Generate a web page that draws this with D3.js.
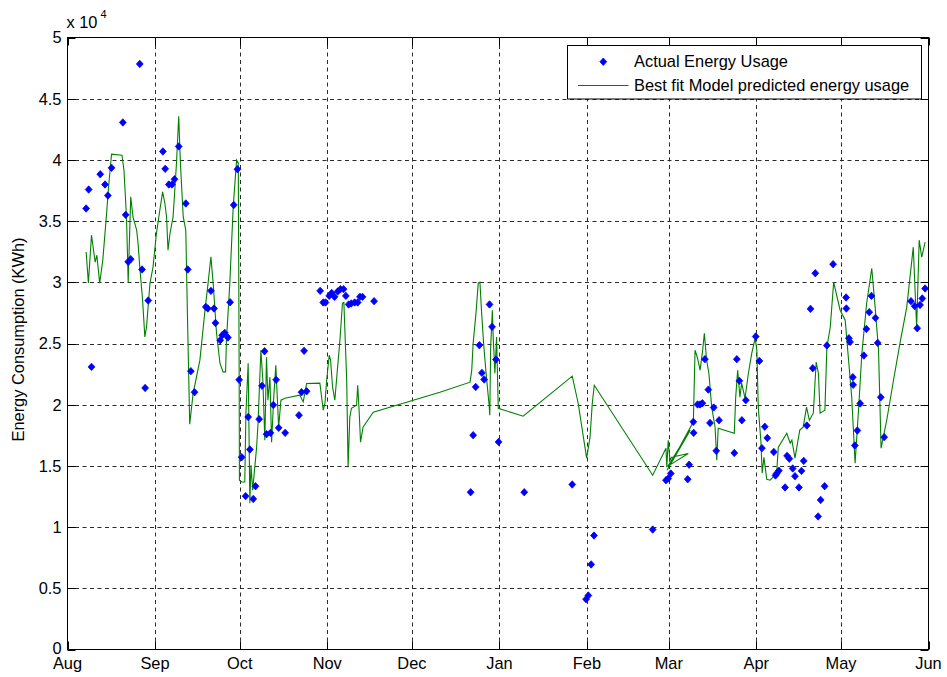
<!DOCTYPE html>
<html>
<head>
<meta charset="utf-8">
<script src="https://cdn.jsdelivr.net/npm/d3@7"></script>
<style>
  html, body { margin: 0; padding: 0; background: #fff; }
  svg { display: block; }
  text { font-family: "Liberation Sans", Arial, sans-serif; fill: #000; }
</style>
</head>
<body>
<svg id="chart" width="947" height="677"></svg>
<script>
// ---------------- data ----------------
// x values: days since 1 Aug 2011; y values: kWh
const xTickLabels = ["Aug","Sep","Oct","Nov","Dec","Jan","Feb","Mar","Apr","May","Jun"];
const yTickValues = [0,5000,10000,15000,20000,25000,30000,35000,40000,45000,50000];
const yTickLabels = ["0","0.5","1","1.5","2","2.5","3","3.5","4","4.5","5"];

const actualDay = [6.6,7.5,8.5,11.6,13.3,14.3,15.6,19.6,20.6,21.5,22.4,25.6,26.4,27.5,28.6,
33.8,34.6,35.9,37.0,37.9,39.4,41.9,42.6,43.7,45.0,49.0,49.7,50.8,51.9,52.4,54.1,54.8,55.7,56.8,57.6,58.9,60.2,
60.8,61.7,63.1,64.0,64.6,65.8,66.6,67.9,68.9,69.8,70.5,71.9,72.9,73.9,74.8,77.1,82.0,82.9,83.8,84.7,
89.5,90.6,91.4,92.7,93.6,94.6,95.7,96.7,97.8,98.6,99.6,100.5,101.7,102.8,103.6,104.5,108.6,
142.8,143.7,144.6,145.9,146.8,147.6,149.5,150.4,151.8,152.7,161.8,178.8,
183.7,184.5,185.5,186.5,207.3,
212.0,212.8,213.7,219.7,220.2,221.8,221.7,223.2,224.1,224.9,225.8,227.0,227.6,228.9,230.8,229.8,236.2,237.1,238.0,238.9,240.3,243.8,
245.1,246.0,247.0,247.9,250.2,250.8,251.2,252.0,254.2,254.9,255.7,256.9,257.7,259.1,260.0,260.8,261.9,263.2,264.0,264.9,265.9,266.8,268.2,269.0,271.2,
275.8,275.9,276.8,277.2,278.2,278.3,278.9,279.8,280.8,282.1,283.0,284.0,284.8,286.2,287.0,288.1,289.3,298.8,300.1,301.0,302.0,302.8,303.8];

const actualKWh = [36030,37580,23090,38830,37990,37090,39350,43060,35510,31670,31890,47840,31050,21370,28510,
40690,39270,37990,37990,38420,41100,36440,31050,22740,21020,27990,27860,29300,27860,26680,25270,25680,25870,25490,28370,36320,39240,
22030,15710,12530,19000,16340,12300,13340,18820,21540,24370,17590,17700,19980,22030,18110,17700,19140,21020,24400,21100,
29300,28350,28350,28890,29130,28810,29250,29440,29440,28890,28190,28270,28350,28350,28810,28810,28460,
12850,17510,21450,24860,22600,22060,28190,26360,23690,16960,12850,13480,
4110,4410,6950,9310,9800,
13830,13970,14380,13910,15100,17700,18600,20020,20020,20120,23720,21230,18510,19770,18730,16230,16060,23720,21950,18730,20370,25570,
23580,16450,18200,17280,16140,14220,14380,14610,13240,15820,15590,14790,14160,13240,14590,15410,18300,27830,22980,30740,10870,12220,13340,24840,31480,
28760,27860,25430,25130,22250,21620,16670,17890,20100,24020,26190,27560,28890,27090,25050,20610,17350,28460,28050,26250,28150,28680,29490];

const modelDay = [6.6,7.4,8.5,9.8,10.4,11.4,12.5,13.8,14.6,15.6,
19.3,20.0,20.9,21.5,22.4,23.2,24.5,25.0,25.6,26.6,
27.4,28.0,29.2,30.3,31.5,32.7,33.7,34.5,35.1,35.6,
36.3,37.4,38.6,39.4,40.0,41.0,41.9,42.5,43.3,44.5,
46.9,48.7,49.8,50.8,51.6,52.8,54.0,55.1,56.0,56.3,
57.5,58.7,59.9,60.5,60.8,60.9,61.7,62.8,63.2,64.0,
64.6,65.0,65.6,67.0,67.5,68.5,69.2,69.9,70.5,71.0,
71.7,72.3,73.1,73.8,74.8,75.6,77.0,82.3,83.5,84.7,
89.4,90.6,91.2,91.8,92.7,93.2,93.9,94.7,95.5,96.5,
97.4,97.9,98.9,99.4,100.0,100.6,102.4,102.8,103.3,103.8,
104.7,108.3,120.1,131.9,142.6,143.2,143.7,144.7,145.5,146.1,
146.7,147.5,148.5,149.3,149.6,149.9,150.5,150.8,151.4,152.0,
152.6,161.4,178.8,180.9,183.3,183.9,185.1,185.9,186.6,207.3,
212.0,212.3,212.8,213.4,214.0,219.9,212.7,220.6,212.4,221.7,
222.3,223.1,224.1,225.0,225.6,226.4,227.2,228.2,229.4,230.0,
230.5,236.2,236.7,237.4,238.2,238.8,240.0,241.2,242.4,243.6,
244.2,244.7,245.6,246.1,246.7,247.7,248.9,251.2,251.8,254.8,
256.0,256.6,257.7,259.4,260.6,261.8,262.8,264.2,265.2,266.0,
266.6,268.3,269.0,270.2,271.4,273.7,275.5,276.6,277.8,279.0,
280.2,281.4,283.1,284.9,286.1,287.3,288.2,290.2,292.6,294.9,
297.3,299.6,300.8,301.7,302.6,303.8];

const modelKWh = [32480,29950,33850,31640,32210,29930,31810,35480,37930,40470,
40380,39160,35340,30030,36980,35340,34260,33170,31260,28540,
25540,26360,29900,31260,33990,35890,37390,36440,35340,32620,
33990,35340,39710,43570,39710,35340,34260,27170,18410,20920,
23640,27720,29930,32080,29930,25840,23390,22680,22680,25270,
29930,36160,39980,39730,23230,13830,13690,13690,19310,23390,
11950,15060,13020,16550,18490,24450,22000,17100,23880,20370,
22250,16940,20780,23230,18160,20370,20530,20780,20230,21730,
21760,19550,20120,22000,24040,23640,21430,20370,22570,25270,
28290,28370,22000,14890,18980,19710,19960,21590,19550,16940,
18160,19390,20200,21020,21840,22820,25030,27480,29930,30010,
27480,24700,22000,20120,19140,24700,27720,25520,22570,25520,
19710,19060,22330,20120,16530,15630,17350,20120,21590,14240,
16450,14890,17100,15470,15710,16010,14980,17920,14650,18600,
24450,23880,22820,24450,25840,23640,22570,19800,18160,15470,
18080,17670,20610,22820,20610,21760,20530,22570,24210,25430,
24450,19800,17100,14400,15710,13910,13830,14400,16530,17670,
16860,17100,15630,17920,18160,19800,18730,19310,23470,22570,
19310,19550,24700,26330,30010,27720,26900,23880,20610,15220,
19550,24210,28290,31150,27970,24450,16450,18730,22000,25030,
27970,32870,26330,33440,32050,33280];

const legendLabels = ["Actual Energy Usage", "Best fit Model predicted energy usage"];
const yAxisTitle = "Energy Consumption (KWh)";

// ---------------- layout ----------------
const W = 947, H = 677;
const L = 67.5, R = 928.5, T = 37.5, B = 649.5;
const FS = 16.4;
const start = Date.UTC(2011, 7, 1);
const end = Date.UTC(2012, 5, 1);
const toDate = d => new Date(start + d * 864e5);

const x = d3.scaleUtc().domain([new Date(start), new Date(end)]).range([L, R]);
const y = d3.scaleLinear().domain([0, 50000]).range([B, T]);

const svg = d3.select("#chart");
const blue = "#0000ff", green = "#008000";
const tickLen = 8;

const xTicks = x.ticks(d3.utcMonth.every(1));

// grid
const grid = svg.append("g").attr("stroke", "#2a2a2a").attr("stroke-width", 1)
  .attr("stroke-dasharray", "4,3.5").attr("fill", "none");
grid.selectAll("line.gx").data(xTicks.slice(1, -1)).join("line")
  .attr("x1", d => Math.round(x(d)) + 0.5).attr("x2", d => Math.round(x(d)) + 0.5)
  .attr("y1", T).attr("y2", B);
grid.selectAll("line.gy").data(yTickValues.slice(1, -1)).join("line")
  .attr("y1", d => Math.round(y(d)) + 0.5).attr("y2", d => Math.round(y(d)) + 0.5)
  .attr("x1", L).attr("x2", R);

// model line
const line = d3.line().x((d, i) => x(toDate(modelDay[i]))).y((d, i) => y(modelKWh[i]));
svg.append("path").datum(modelDay).attr("d", line)
  .attr("fill", "none").attr("stroke", green).attr("stroke-width", 1.1);

// actual points (diamond markers)
const diamond = (cx, cy) => `M${cx},${cy-3.7}L${cx+3.4},${cy}L${cx},${cy+3.7}L${cx-3.4},${cy}Z`;
svg.append("g").selectAll("path").data(actualDay).join("path")
  .attr("d", (d, i) => diamond(x(toDate(d)), y(actualKWh[i])))
  .attr("fill", blue).attr("stroke", blue).attr("stroke-width", 0.8);

// box
svg.append("rect").attr("x", L).attr("y", T).attr("width", R - L).attr("height", B - T)
  .attr("fill", "none").attr("stroke", "#000").attr("stroke-width", 1);

// ticks (inward, all four sides)
const tk = svg.append("g").attr("stroke", "#000").attr("stroke-width", 1);
xTicks.forEach(t => {
  const px = Math.round(x(t)) + 0.5;
  tk.append("line").attr("x1", px).attr("x2", px).attr("y1", B).attr("y2", B - tickLen);
  tk.append("line").attr("x1", px).attr("x2", px).attr("y1", T).attr("y2", T + tickLen);
});
yTickValues.forEach(v => {
  const py = Math.round(y(v)) + 0.5;
  tk.append("line").attr("x1", L).attr("x2", L + tickLen).attr("y1", py).attr("y2", py);
  tk.append("line").attr("x1", R).attr("x2", R - tickLen).attr("y1", py).attr("y2", py);
});

// tick labels
svg.append("g").selectAll("text").data(xTicks).join("text")
  .attr("x", d => x(d)).attr("y", B + 19.5)
  .attr("text-anchor", "middle").attr("font-size", FS)
  .text((d, i) => xTickLabels[i]);
svg.append("g").selectAll("text").data(yTickValues).join("text")
  .attr("x", L - 6).attr("y", d => y(d) - (d === 0 ? 1.5 : 0)).attr("dy", "0.36em")
  .attr("text-anchor", "end").attr("font-size", FS)
  .text((d, i) => yTickLabels[i]);

// exponent
svg.append("text").attr("x", 66.5).attr("y", 28).attr("font-size", FS).text("x 10");
svg.append("text").attr("x", 100.5).attr("y", 18).attr("font-size", 11).text("4");

// y axis title
svg.append("text").attr("transform", `translate(23.5,${(T + B) / 2 - 4}) rotate(-90)`)
  .attr("text-anchor", "middle").attr("font-size", FS).text(yAxisTitle);

// legend
const lg = svg.append("g");
lg.append("rect").attr("x", 567.5).attr("y", 45.5).attr("width", 354).attr("height", 53.5)
  .attr("fill", "#fff").attr("stroke", "#000").attr("stroke-width", 1);
lg.append("path").attr("d", diamond(603.3, 61.7)).attr("fill", blue).attr("stroke", blue).attr("stroke-width", 0.8);
lg.append("line").attr("x1", 578).attr("x2", 628.5).attr("y1", 85.5).attr("y2", 85.5)
  .attr("stroke", green).attr("stroke-width", 1.1);
lg.append("text").attr("x", 634).attr("y", 67).attr("font-size", FS).text(legendLabels[0]);
lg.append("text").attr("x", 634).attr("y", 91).attr("font-size", FS).text(legendLabels[1]);
</script>
</body>
</html>
